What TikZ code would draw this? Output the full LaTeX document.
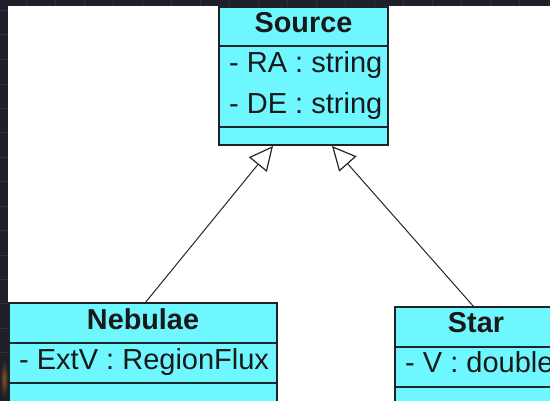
\documentclass[tikz,border=0pt]{standalone}
\usepackage{fontspec}
\setmainfont{Liberation Sans}
\usetikzlibrary{arrows.meta}
\definecolor{umlfill}{RGB}{110,247,255}
\definecolor{umlline}{RGB}{28,36,38}
\definecolor{canvasdark}{RGB}{30,31,41}
\definecolor{canvasgrid}{RGB}{46,48,60}
\tikzset{
  classbox/.style={draw=umlline, fill=umlfill, line width=2pt, inner sep=0pt, outer sep=0pt},
  divider/.style={draw=umlline, line width=2pt},
  classname/.style={font=\fontsize{28.8}{32}\selectfont\bfseries, text=black!90, anchor=base, inner sep=0pt},
  attrib/.style={font=\fontsize{29}{32}\selectfont, text=black!90, anchor=base west, inner sep=0pt},
  inherit/.style={draw=black!85, line width=1pt, -{Triangle[open, length=24pt, width=23pt, line width=1.2pt]}},
}
\begin{document}
\begin{tikzpicture}[x=1pt, y=-1pt]
\useasboundingbox (0,0) rectangle (550,401);
\clip (0,0) rectangle (550,401);
% dark canvas with grid
\fill[canvasdark] (0,0) rectangle (550,401);
\foreach \gx in {26,55,84,113,142,171,200,229,258,287,316,345,374,403,432,461,490,519,548}
  \draw[canvasgrid, line width=1pt] (\gx,0) -- (\gx,6);
\foreach \gy in {11,35,60,85,109,133,158,182,207,231,256,280,304,329,353,378}
  \draw[canvasgrid, line width=1pt] (0,\gy) -- (8,\gy);
\shade[inner color=orange!60!brown, outer color=canvasdark, opacity=0.5] (0,360) rectangle (8,398);
% drawing sheet
\fill[white] (8,6) rectangle (550,401);

% class Source
\node[classbox, minimum width=169pt, minimum height=138pt, anchor=north west] (source) at (219,7) {};
\draw[divider] (219,46) -- (388,46);
\draw[divider] (219,127) -- (388,127);
\node[classname] (sourcename) at (303.5,33) {Source};
\node[attrib] (sourcera) at (229,73) {- RA : string};
\node[attrib] (sourcede) at (229,114) {- DE : string};

% class Nebulae
\node[classbox, minimum width=268pt, minimum height=130pt, anchor=north west] (nebulae) at (9,303) {};
\draw[divider] (9,343) -- (277,343);
\draw[divider] (9,383) -- (277,383);
\node[classname] (nebulaename) at (143,330) {Nebulae};
\node[attrib] (nebulaeext) at (19,370) {- ExtV : RegionFlux};

% class Star
\node[classbox, minimum width=170pt, minimum height=130pt, anchor=north west] (star) at (395,307) {};
\draw[divider] (395,347) -- (565,347);
\draw[divider] (395,387) -- (565,387);
\node[classname] (starname) at (476,333) {Star};
\node[attrib] (starv) at (405,373) {- V : double};

% generalization connectors
\coordinate (nebulaetop) at (145,303);
\coordinate (startop) at (474,307);
\coordinate (sourceleft) at (273,146);
\coordinate (sourceright) at (332,146);
\draw[inherit] (nebulaetop) -- (sourceleft);
\draw[inherit] (startop) -- (sourceright);
\end{tikzpicture}
\end{document}
